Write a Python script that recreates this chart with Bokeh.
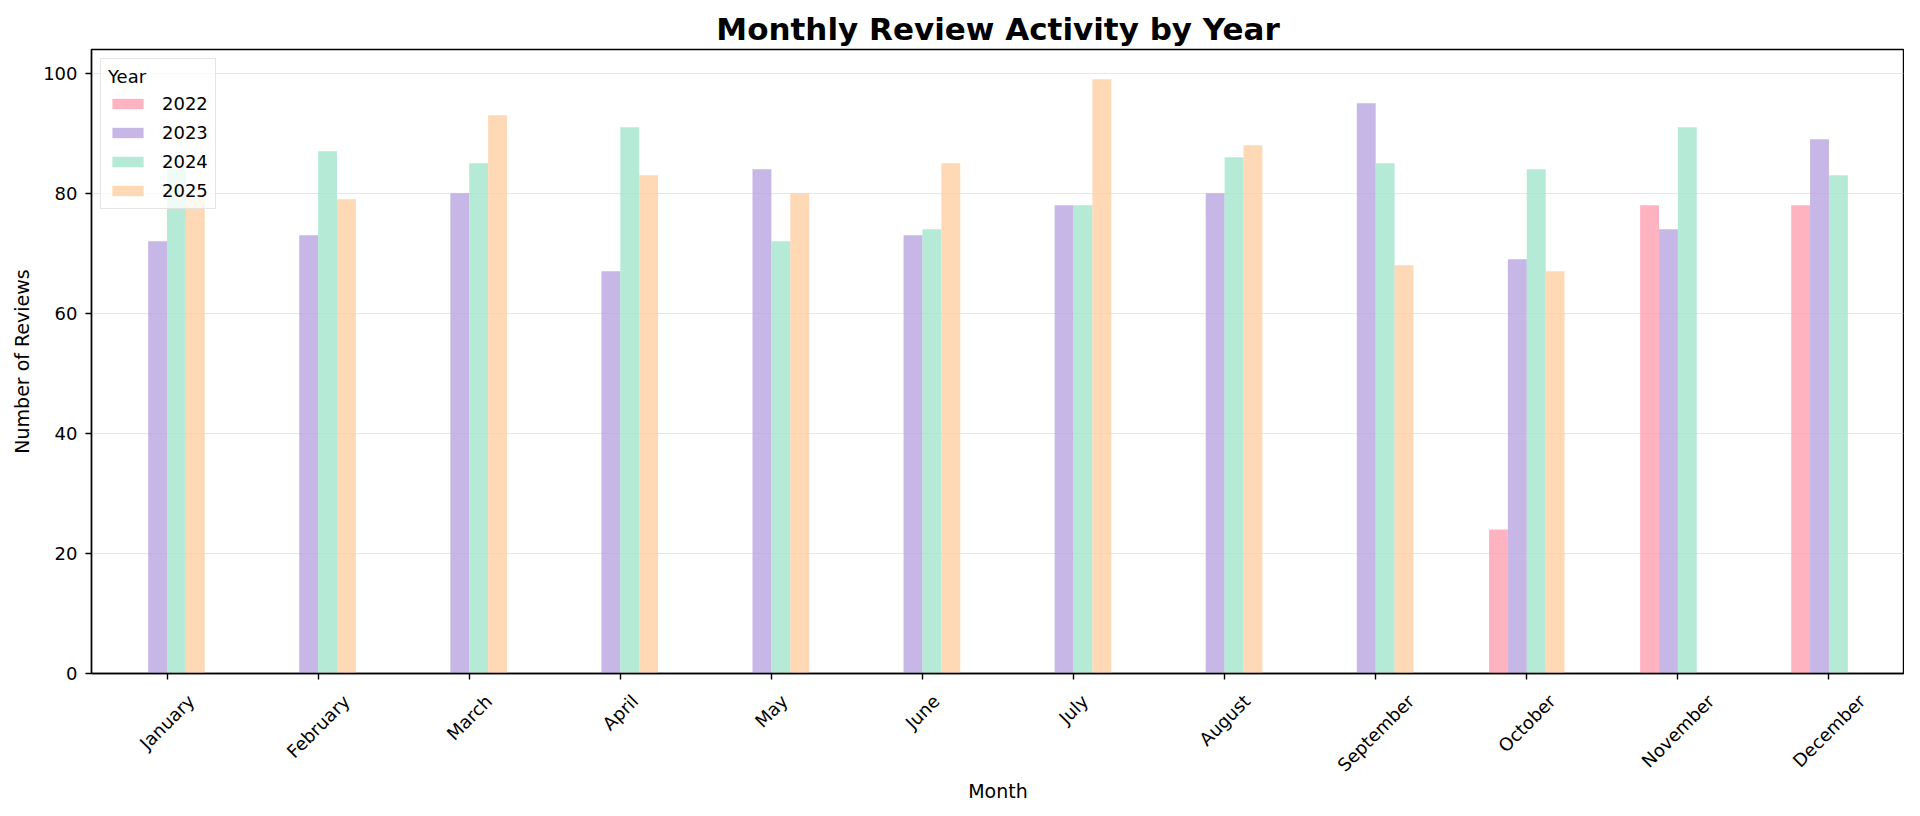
import math
from bokeh.plotting import figure
from bokeh.layouts import column
from bokeh.models import (FactorRange, Range1d, FixedTicker, Legend, LegendItem,
                          ColumnDataSource, Title)
from bokeh.core.properties import value
from bokeh.transform import dodge
from bokeh.embed import file_html
from bokeh.resources import INLINE

nan = float("nan")

months = ["January", "February", "March", "April", "May", "June", "July",
          "August", "September", "October", "November", "December"]
years = ["2022", "2023", "2024", "2025"]
reviews_2022 = [nan, nan, nan, nan, nan, nan, nan, nan, nan, 24, 78, 78]
reviews_2023 = [72, 73, 80, 67, 84, 73, 78, 80, 95, 69, 74, 89]
reviews_2024 = [84, 87, 85, 91, 72, 74, 78, 86, 85, 84, 91, 83]
reviews_2025 = [80, 79, 93, 83, 80, 85, 99, 88, 68, 67, nan, nan]
colors = ["#FFA0B1", "#B8A5E0", "#A1E5CC", "#FFCFA2"]
y_ticks = [0, 20, 40, 60, 80, 100]

series = [reviews_2022, reviews_2023, reviews_2024, reviews_2025]
offsets = [-0.1875, -0.0625, 0.0625, 0.1875]

FONT = "DejaVu Sans"
TICK_PX = 18
LEFT, RIGHT = 91, 0
FRAME_W = 1904 - LEFT - RIGHT

p = figure(
    x_range=FactorRange(*months, range_padding=0),
    y_range=Range1d(0, 103.95),
    frame_width=FRAME_W, frame_height=624,
    output_backend="svg", toolbar_location=None,
    min_border_left=LEFT, min_border_right=RIGHT, min_border_top=49, min_border_bottom=10,
    title="Monthly Review Activity by Year",
)

data = {"month": months}
for yr, vals in zip(years, series):
    data["y" + yr] = vals
src = ColumnDataSource(data)

items = []
for yr, off, col in zip(years, offsets, colors):
    r = p.vbar(x=dodge("month", off, range=p.x_range), top="y" + yr, width=0.125,
               source=src, fill_color=col, fill_alpha=0.8, line_color=None)
    items.append(LegendItem(label=yr, renderers=[r]))

legend = Legend(items=items, location="top_left", title="Year")
legend.title_text_font = FONT
legend.title_text_font_size = "18px"
legend.title_text_font_style = "normal"
legend.title_text_color = "black"
legend.title_text_align = "center"
legend.title_standoff = 6
legend.label_text_font = FONT
legend.label_text_font_size = "18px"
legend.label_text_color = "black"
legend.glyph_width = 39
legend.glyph_height = 13
legend.label_height = 21
legend.label_standoff = 15
legend.spacing = 8
legend.padding = 7
legend.margin = 9
legend.background_fill_alpha = 0.8
legend.border_line_color = "#cccccc"
legend.border_line_width = 1
p.add_layout(legend)

p.title.text_font = FONT
p.title.text_font_size = "31px"
p.title.text_font_style = "bold"
p.title.align = "center"
p.title.text_color = "black"
p.title.standoff = 5

p.yaxis.axis_label = "Number of Reviews"
for ax in (p.xaxis, p.yaxis):
    ax.axis_label_text_font = FONT
    ax.axis_label_text_font_size = "19px"
    ax.axis_label_text_font_style = "normal"
    ax.axis_label_text_color = "black"
    ax.major_label_text_font = FONT
    ax.major_label_text_font_size = f"{TICK_PX}px"
    ax.major_label_text_color = "black"
    ax.axis_line_color = "black"
    ax.axis_line_width = 1.4
    ax.major_tick_line_color = "black"
    ax.major_tick_line_width = 1.4
    ax.major_tick_out = 6
    ax.major_tick_in = 0
    ax.minor_tick_line_color = None

p.yaxis.ticker = FixedTicker(ticks=y_ticks)
p.yaxis.major_label_standoff = 8
p.yaxis.axis_label_standoff = 7

# x axis keeps its ticks; its labels are drawn rotated and centred in the panel below
p.xaxis.major_label_text_font_size = "0px"
p.xaxis.major_label_text_alpha = 0
p.xaxis.major_label_standoff = 0

p.xgrid.grid_line_color = None
p.ygrid.grid_line_color = "#b0b0b0"
p.ygrid.grid_line_alpha = 0.3
p.ygrid.grid_line_width = 1.2

p.outline_line_color = "black"
p.outline_line_width = 1.4
p.outline_line_alpha = 1.0

# ---- tick-label panel (matplotlib-style rotation=45, centred under each tick)
LAB_H = 94
p2 = figure(
    x_range=p.x_range, y_range=Range1d(-LAB_H, 0),
    frame_width=FRAME_W, frame_height=LAB_H,
    x_axis_type=None, y_axis_type=None,
    output_backend="svg", toolbar_location=None,
    min_border_left=LEFT, min_border_right=RIGHT, min_border_top=0, min_border_bottom=0,
)
p2.outline_line_color = None
p2.grid.grid_line_color = None

# approximate DejaVu Sans advance widths (em), used to centre the rotated labels
adv = {"J": .295, "a": .613, "n": .634, "u": .634, "r": .411, "y": .592, "F": .575,
       "e": .615, "b": .635, "M": .863, "c": .550, "h": .634, "A": .684, "p": .635,
       "i": .278, "l": .278, "g": .635, "s": .521, "t": .392, "S": .635, "m": .974,
       "O": .787, "o": .612, "N": .748, "v": .592, "D": .770}
s45 = math.sin(math.pi / 4)
ys = []
for m in months:
    w = sum(adv.get(ch, .6) for ch in m) * TICK_PX
    h = (w + 1.16 * TICK_PX) * s45
    ys.append(-(7 + h / 2))
lab_src = ColumnDataSource({"month": months, "ypos": ys})
p2.text(x="month", y="ypos", text="month", source=lab_src, angle=math.pi / 4,
        text_align="center", text_baseline="middle",
        text_font=value(FONT), text_font_size=f"{TICK_PX}px", text_color="black")

xlabel = Title(text="Month", align="center", text_font=FONT, text_font_size="19px",
               text_font_style="normal", text_color="black", standoff=0)
p2.add_layout(xlabel, "below")

layout = column(p, p2, spacing=0)
open("out.html", "w").write(file_html(layout, INLINE))
